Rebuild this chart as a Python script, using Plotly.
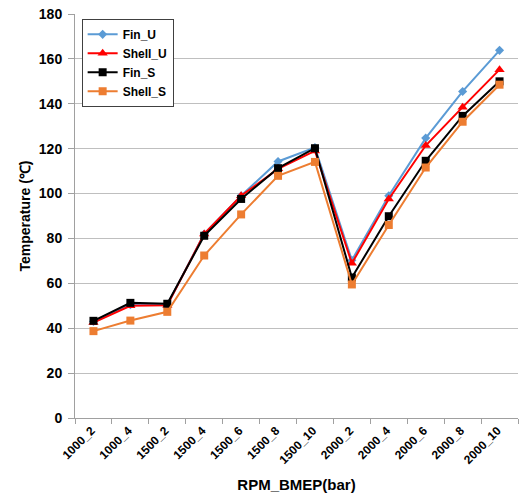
import plotly.graph_objects as go

categories = ["1000_2", "1000_4", "1500_2", "1500_4", "1500_6", "1500_8", "1500_10",
              "2000_2", "2000_4", "2000_6", "2000_8", "2000_10"]
fin_u = [43.0, 50.5, 50.5, 82.0, 99.0, 114.3, 120.5, 70.3, 99.0, 124.7, 145.5, 163.8]
shell_u = [42.5, 50.0, 50.2, 82.0, 99.0, 111.0, 119.0, 68.9, 97.6, 121.4, 138.5, 155.2]
fin_s = [43.3, 51.3, 50.9, 81.2, 97.6, 111.3, 120.2, 62.6, 89.9, 114.6, 134.6, 150.0]
shell_s = [38.7, 43.4, 47.3, 72.4, 90.7, 107.9, 114.1, 59.5, 86.0, 111.6, 132.0, 148.5]

series = [
    ("Fin_U", fin_u, "#5B9BD5", "diamond", 7),
    ("Shell_U", shell_u, "#FF0000", "triangle-up", 9),
    ("Fin_S", fin_s, "#000000", "square", 8),
    ("Shell_S", shell_s, "#ED7D31", "square", 8),
]

fig = go.Figure()
for name, vals, color, sym, size in series:
    fig.add_trace(go.Scatter(
        x=categories, y=vals, name=name, mode="lines+markers",
        line=dict(color=color, width=2),
        marker=dict(symbol=sym, size=size, color=color),
    ))

font_family = "Arial, Liberation Sans, sans-serif"
fig.update_layout(
    width=524, height=501,
    margin=dict(l=75, r=6, t=14, b=83, autoexpand=False),
    paper_bgcolor="white", plot_bgcolor="white",
    font=dict(family=font_family, color="black"),
    showlegend=True,
    legend=dict(
        x=0.015, y=0.988, xanchor="left", yanchor="top",
        bordercolor="#404040", borderwidth=1, bgcolor="white",
        font=dict(size=12, family=font_family, color="black", weight="bold"),
        tracegroupgap=0, itemwidth=30,
    ),
    xaxis=dict(
        type="category", tickson="boundaries",
        range=[-0.5, len(categories) - 0.5],
        tickangle=-45, automargin=False,
        tickfont=dict(size=12, family=font_family, weight="bold"),
        ticklabelshift=-2,
        showline=True, linecolor="#A0A0A0", linewidth=1,
        ticks="outside", ticklen=5, tickcolor="#A0A0A0",
        showgrid=False,
        title=dict(text="RPM_BMEP(bar)", font=dict(size=15, family=font_family, weight="bold"), standoff=13),
    ),
    yaxis=dict(
        range=[0, 180], dtick=20, automargin=False,
        tickfont=dict(size=14, family=font_family, weight="bold"),
        showline=True, linecolor="#A0A0A0", linewidth=1,
        ticks="outside", ticklen=6, tickcolor="#A0A0A0",
        ticklabelstandoff=3,
        showgrid=True, gridcolor="#BFBFBF", gridwidth=1,
        zeroline=False,
        title=dict(text="Temperature (℃)", font=dict(size=14, family=font_family, weight="bold"), standoff=4),
    ),
)

fig.write_html("out.html", config={"displayModeBar": False},
               post_script="document.body.style.margin='0';")
